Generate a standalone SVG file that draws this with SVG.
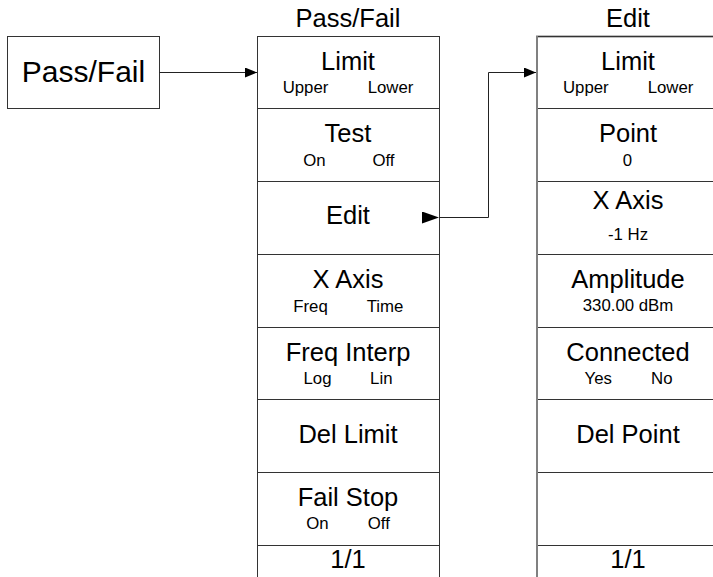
<svg xmlns="http://www.w3.org/2000/svg" width="713" height="577" viewBox="0 0 713 577">
<style>
  .box { fill: #ffffff; stroke: #333333; stroke-width: 1; }
  .sep { stroke: #333333; stroke-width: 1; }
  .edge { fill: none; stroke: #222222; stroke-width: 1; }
  text { font-family: "Liberation Sans", Arial, sans-serif; fill: #000000; text-anchor: middle; }
  .big { font-size: 30px; }
  .hdr { font-size: 25.5px; }
  .lbl { font-size: 25.5px; }
  .sub { font-size: 16.8px; }
</style>
<defs>
  <marker id="arr" markerUnits="userSpaceOnUse" markerWidth="13" markerHeight="11" refX="12" refY="5" orient="auto">
    <path d="M0,0 L12,5 L0,10 z" fill="#000000"/>
  </marker>
  <marker id="arrStart" markerUnits="userSpaceOnUse" markerWidth="18" markerHeight="13" refX="17" refY="6" orient="0">
    <path d="M0,0 L17,6 L0,12 z" fill="#000000"/>
  </marker>
</defs>
<rect width="713" height="577" fill="#ffffff"/>

<g id="node-passfail">
  <rect class="box" x="7.5" y="36.5" width="152" height="72"/>
  <text class="big" x="83.5" y="82">Pass/Fail</text>
</g>

<g id="menu-passfail">
  <text class="hdr" x="348" y="27">Pass/Fail</text>
  <rect class="box" x="257.5" y="36.5" width="182" height="545"/>
  <line class="sep" x1="257.5" y1="108.5" x2="439.5" y2="108.5"/>
  <line class="sep" x1="257.5" y1="181.5" x2="439.5" y2="181.5"/>
  <line class="sep" x1="257.5" y1="254.5" x2="439.5" y2="254.5"/>
  <line class="sep" x1="257.5" y1="327.5" x2="439.5" y2="327.5"/>
  <line class="sep" x1="257.5" y1="399.5" x2="439.5" y2="399.5"/>
  <line class="sep" x1="257.5" y1="472.5" x2="439.5" y2="472.5"/>
  <line class="sep" x1="257.5" y1="545.5" x2="439.5" y2="545.5"/>
  <g id="pf-limit">
    <text class="lbl" x="348" y="70">Limit</text>
    <text class="sub" x="305.5" y="92.5">Upper</text>
    <text class="sub" x="390.5" y="92.5">Lower</text>
  </g>
  <g id="pf-test">
    <text class="lbl" x="348" y="142">Test</text>
    <text class="sub" x="314.5" y="166">On</text>
    <text class="sub" x="383.5" y="166">Off</text>
  </g>
  <g id="pf-edit">
    <text class="lbl" x="348" y="224">Edit</text>
  </g>
  <g id="pf-xaxis">
    <text class="lbl" x="348" y="287.7">X Axis</text>
    <text class="sub" x="310.5" y="311.7">Freq</text>
    <text class="sub" x="385" y="311.7">Time</text>
  </g>
  <g id="pf-freqinterp">
    <text class="lbl" x="348" y="360.7">Freq Interp</text>
    <text class="sub" x="317.5" y="384.3">Log</text>
    <text class="sub" x="381.3" y="384.3">Lin</text>
  </g>
  <g id="pf-dellimit">
    <text class="lbl" x="348" y="443.3">Del Limit</text>
  </g>
  <g id="pf-failstop">
    <text class="lbl" x="348" y="505.7">Fail Stop</text>
    <text class="sub" x="317.5" y="529.3">On</text>
    <text class="sub" x="378.8" y="529.3">Off</text>
  </g>
  <g id="pf-page">
    <text class="lbl" x="348" y="568.3">1/1</text>
  </g>
</g>

<g id="menu-edit">
  <text class="hdr" x="628" y="27">Edit</text>
  <rect class="box" x="537" y="36.5" width="182" height="545" style="stroke:#808080;stroke-width:2"/>
  <line class="sep" x1="538" y1="36.5" x2="719" y2="36.5"/>
  <line class="sep" x1="538" y1="108.5" x2="719" y2="108.5"/>
  <line class="sep" x1="538" y1="181.5" x2="719" y2="181.5"/>
  <line class="sep" x1="538" y1="254.5" x2="719" y2="254.5"/>
  <line class="sep" x1="538" y1="327.5" x2="719" y2="327.5"/>
  <line class="sep" x1="538" y1="399.5" x2="719" y2="399.5"/>
  <line class="sep" x1="538" y1="472.5" x2="719" y2="472.5"/>
  <line class="sep" x1="538" y1="545.5" x2="719" y2="545.5"/>
  <g id="ed-limit">
    <text class="lbl" x="628" y="70">Limit</text>
    <text class="sub" x="585.8" y="92.5">Upper</text>
    <text class="sub" x="670.5" y="92.5">Lower</text>
  </g>
  <g id="ed-point">
    <text class="lbl" x="628" y="142">Point</text>
    <text class="sub" x="627.5" y="165.7">0</text>
  </g>
  <g id="ed-xaxis">
    <text class="lbl" x="628" y="209.3">X Axis</text>
    <text class="sub" x="628" y="240">-1 Hz</text>
  </g>
  <g id="ed-amplitude">
    <text class="lbl" x="628" y="287.7">Amplitude</text>
    <text class="sub" x="628" y="311">330.00 dBm</text>
  </g>
  <g id="ed-connected">
    <text class="lbl" x="628" y="360.7">Connected</text>
    <text class="sub" x="598.3" y="384.3">Yes</text>
    <text class="sub" x="661.8" y="384.3">No</text>
  </g>
  <g id="ed-delpoint">
    <text class="lbl" x="628" y="443.3">Del Point</text>
  </g>
  <g id="ed-page">
    <text class="lbl" x="628" y="568.3">1/1</text>
  </g>
</g>

<g id="connectors">
  <path class="edge" d="M159.5,72.5 H257" marker-end="url(#arr)"/>
  <path class="edge" d="M439,217.5 H488.5 V72.5 H536" marker-start="url(#arrStart)" marker-end="url(#arr)"/>
</g>
</svg>
